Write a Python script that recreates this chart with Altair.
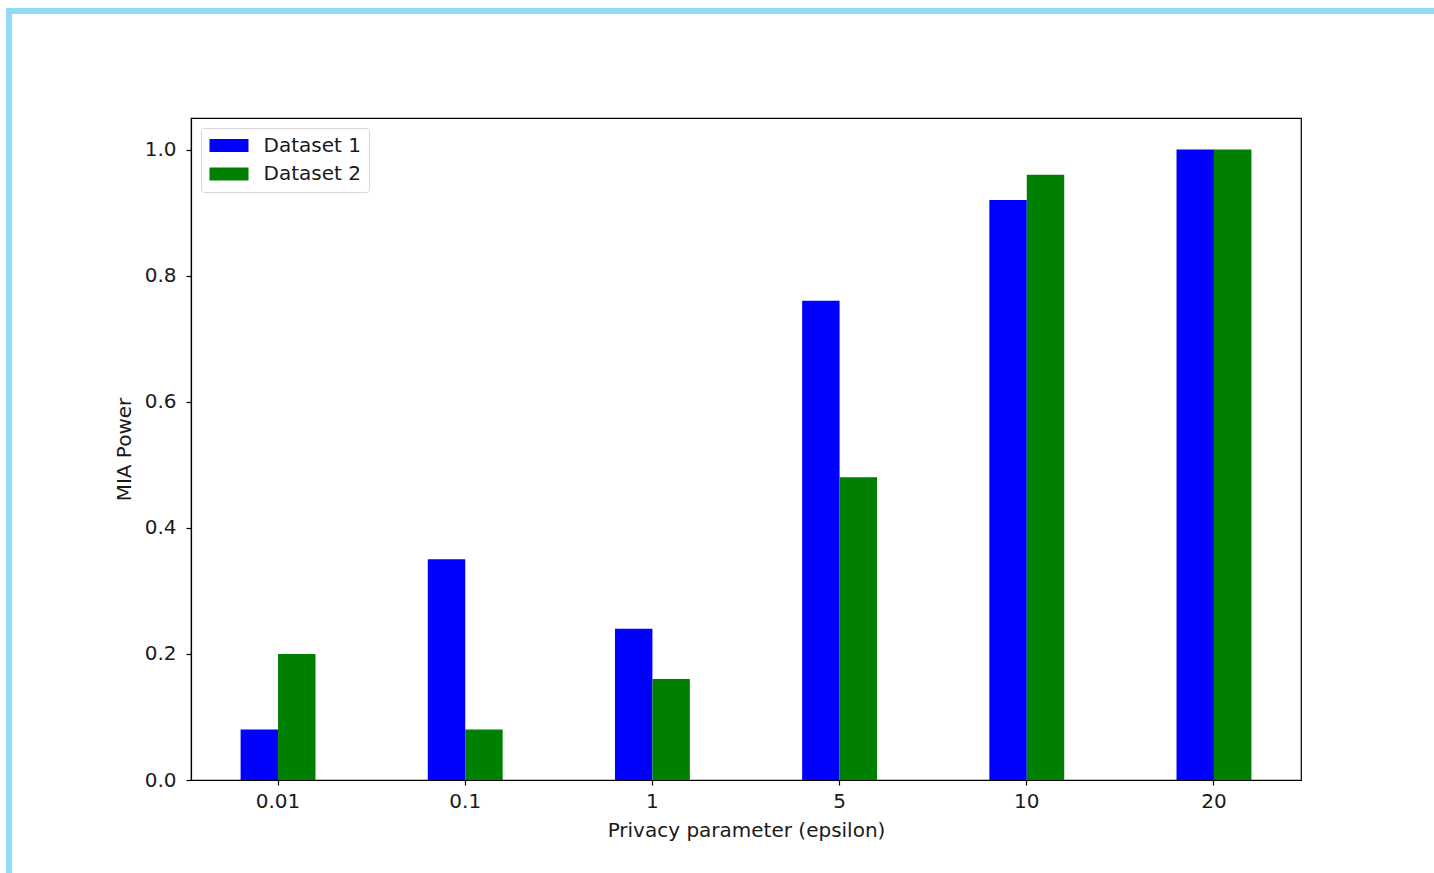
import altair as alt
import pandas as pd

# Privacy budgets and measured membership-inference power per dataset
epsilons = ["0.01", "0.1", "1", "5", "10", "20"]
dataset_1 = [0.08, 0.35, 0.24, 0.76, 0.92, 1.0]
dataset_2 = [0.20, 0.08, 0.16, 0.48, 0.96, 1.0]
series_names = ["Dataset 1", "Dataset 2"]
series_colors = ["#0000ff", "#008000"]
y_ticks = [0.0, 0.2, 0.4, 0.6, 0.8, 1.0]

rows = []
for name, values in zip(series_names, [dataset_1, dataset_2]):
    for eps, v in zip(epsilons, values):
        rows.append({"epsilon": eps, "series": name, "power": v})
df = pd.DataFrame(rows)

FONT = "DejaVu Sans"
FS = 20
TEXT = "#1a1a1a"
FRAME_BLUE = "#93d9f5"

bars = alt.Chart(df).mark_bar(stroke=None).encode(
    x=alt.X(
        "epsilon:N",
        sort=epsilons,
        scale=alt.Scale(paddingInner=0.6, paddingOuter=0.265),
        axis=alt.Axis(
            title="Privacy parameter (epsilon)",
            labelAngle=0,
            tickSize=5,
            labelPadding=6,
            titleY=50,
            titleBaseline="middle",
        ),
    ),
    xOffset=alt.XOffset(
        "series:N",
        sort=series_names,
        scale=alt.Scale(paddingInner=0, paddingOuter=0),
    ),
    y=alt.Y(
        "power:Q",
        scale=alt.Scale(domain=[0, 1.05], nice=False, zero=True),
        axis=alt.Axis(
            title="MIA Power",
            values=y_ticks,
            format=".1f",
            tickSize=5,
            labelPadding=10,
            titleX=-67,
            titleY=331,
            titleAngle=-90,
            titleAlign="center",
            titleBaseline="middle",
        ),
    ),
    color=alt.Color(
        "series:N",
        sort=series_names,
        scale=alt.Scale(domain=series_names, range=series_colors),
        legend=alt.Legend(
            title=None,
            orient="none",
            legendX=10,
            legendY=10,
            symbolType="M-3,-1H3V1H-3Z",
            symbolSize=169,
            symbolStrokeWidth=0,
            symbolOffset=10.5,
            labelOffset=24.5,
            rowPadding=8.5,
            padding=7.5,
            strokeColor="#d6d6d6",
            fillColor="white",
            cornerRadius=3,
            labelFontSize=FS,
            labelFont=FONT,
            labelColor=TEXT,
        ),
    ),
)

# Light-blue page frame along the top and left edges
frame_src = alt.Data(values=[{"k": 0}])
frame_top = alt.Chart(frame_src).mark_rule(color=FRAME_BLUE, strokeWidth=6, clip=False).encode(
    x=alt.value(-185), x2=alt.value(1243), y=alt.value(-107)
)
frame_left = alt.Chart(frame_src).mark_rule(color=FRAME_BLUE, strokeWidth=6, clip=False).encode(
    x=alt.value(-182), y=alt.value(-110), y2=alt.value(760)
)

chart = (
    alt.layer(bars, frame_top, frame_left)
    .properties(
        width=1110,
        height=662,
        autosize=alt.AutoSizeParams(type="none"),
        padding={"left": 191, "top": 118, "right": 133, "bottom": 93},
        background="white",
    )
    .configure_view(stroke="black", strokeWidth=1.2)
    .configure_axis(
        grid=False,
        domain=True,
        domainColor="black",
        domainWidth=1.2,
        tickColor="black",
        tickWidth=1.2,
        labelFont=FONT,
        labelFontSize=FS,
        labelColor=TEXT,
        titleFont=FONT,
        titleFontSize=FS,
        titleFontWeight="normal",
        titleColor=TEXT,
    )
)

chart.save("out.html", embed_options={"renderer": "svg", "actions": False})
